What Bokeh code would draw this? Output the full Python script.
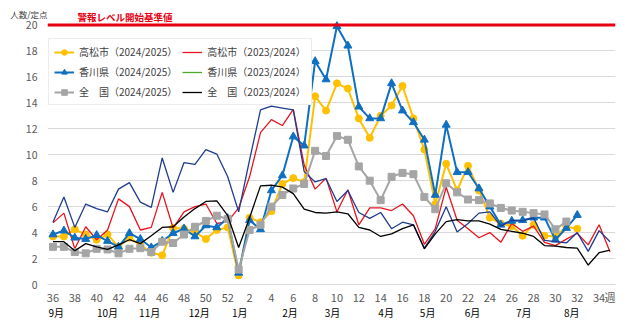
from bokeh.plotting import figure
from bokeh.models import (ColumnDataSource, Range1d, FixedTicker, LinearAxis,
                          Legend, LegendItem, Span, Label)
from bokeh.embed import file_html
from bokeh.resources import INLINE

# ---- data -------------------------------------------------------------
weeks = list(range(36, 53)) + list(range(1, 36))

takamatsu_2425 = [3.7, 3.7, 4.25, 3.85, 3.45, 3.85, 2.9, 3.6, 3.05, 2.45, 2.25, 4.35, 4.3,
                  4.05, 3.5, 4.2, 4.4,
                  0.7, 5.15, 4.8, 5.65, 7.75, 8.2, 7.9, 14.5, 13.4, 15.5, 15.1, 12.8, 11.3,
                  13.0, 13.8, 15.3, 12.8, 10.4, 6.2, 9.3, 7.25, 9.15, 7.25, 5.15, 4.7, 4.5,
                  3.75, 4.6, 3.75, 3.7, 4.45, 4.3]
kagawa_2425 = [3.85, 4.15, 3.6, 3.5, 3.8, 3.35, 2.9, 3.95, 3.5, 2.85, 3.35, 3.95, 4.3,
               3.7, 4.55, 4.4, 5.1,
               0.9, 4.95, 4.25, 7.25, 8.4, 11.4, 10.7, 17.2, 15.8, 19.9, 18.4, 13.7, 12.8,
               12.8, 15.5, 13.4, 12.5, 11.15, 6.9, 12.3, 8.65, 8.65, 7.4, 6.0, 4.6, 4.9,
               4.95, 5.15, 5.15, 3.45, 4.35, 5.35]
national_2425 = [2.9, 2.9, 2.5, 2.4, 2.75, 2.7, 2.4, 2.75, 2.8, 2.5, 3.3, 3.2, 3.85,
                 4.45, 4.9, 5.3, 5.05,
                 1.15, 4.2, 4.6, 6.0, 6.9, 7.4, 7.75, 10.3, 9.9, 11.45, 11.15, 9.1, 8.0,
                 6.5, 8.3, 8.6, 8.5, 6.75, 5.8, 7.8, 7.1, 6.55, 6.5, 6.25, 5.9, 5.7,
                 5.6, 5.5, 5.4, 4.25, 4.85]
takamatsu_2324 = [4.75, 5.5, 2.75, 4.45, 3.45, 4.2, 6.6, 6.0, 4.2, 4.4, 7.1, 4.35, 5.6,
                  6.0, 6.2, 4.7, 4.85,
                  5.9, 8.3, 11.7, 12.7, 12.25, 13.5, 9.2, 7.35, 8.2, 5.6, 7.3, 4.6, 5.9,
                  5.9, 5.7, 6.2, 5.3, 3.1, 4.3, 7.5, 4.95, 4.3, 3.6, 4.0, 3.25, 4.7,
                  4.1, 4.5, 3.25, 3.0, 3.5, 3.95, 3.05, 4.6, 2.5]
kagawa_2324 = [4.8, 6.75, 4.4, 6.2, 5.85, 5.6, 7.35, 7.85, 6.35, 5.95, 9.75, 7.1, 9.4,
               9.25, 10.4, 10.05, 8.3,
               5.6, 9.6, 13.45, 13.75, 13.6, 13.45, 8.7, 7.9, 8.15, 6.4, 7.25, 5.55, 5.1,
               5.55, 4.3, 4.8, 4.6, 2.8, 4.1, 6.0, 4.05, 4.7, 5.5, 5.6, 4.5, 4.95,
               4.9, 5.15, 3.4, 3.3, 3.2, 4.0, 2.55, 4.15, 3.3]
national_2324 = [3.3, 3.3, 2.6, 3.15, 2.9, 2.7, 3.05, 3.45, 3.15, 3.75, 4.4, 4.45, 5.2,
                 5.85, 6.4, 6.45, 5.3,
                 2.85, 5.15, 7.6, 7.65, 7.5, 7.0, 5.8, 5.55, 5.5, 5.6, 5.45, 4.4, 4.2,
                 3.7, 3.9, 4.3, 4.6, 2.75, 3.9, 4.85, 5.0, 4.9, 4.9, 4.65, 4.25, 4.1,
                 3.95, 3.7, 3.0, 2.95, 2.85, 2.8, 1.5, 2.45, 2.65]

alert_level = 20
alert_text = "警報レベル開始基準値"
y_ticks = list(range(0, 21, 2))
y_unit = "人数/定点"
week_tick_labels = [36, 38, 40, 42, 44, 46, 48, 50, 52, 2, 4, 6, 8, 10, 12, 14, 16,
                    18, 20, 22, 24, 26, 28, 30, 32, 34]
week_unit = "週"
months = ["9月", "10月", "11月", "12月", "1月", "2月", "3月", "4月", "5月", "6月", "7月", "8月"]
month_label_pos = [0.3, 5.0, 8.85, 13.4, 17.1, 21.7, 25.6, 30.5, 34.3, 38.4, 43.1, 47.5]

legend_labels = ["高松市（2024/2025）", "香川県（2024/2025）", "全　国（2024/2025）",
                 "高松市（2023/2024）", "香川県（2023/2024）", "全　国（2023/2024）"]

FONT = "Noto Sans CJK JP"

# ---- figure -----------------------------------------------------------
n = len(weeks)
idx = list(range(n))
Y_TOP = 21.5          # room above the alert line for its caption
UNIT_Y = 20.87        # height of the unit caption
ALERT_TEXT_Y = 20.64

p = figure(width=625, height=322, output_backend="svg", toolbar_location=None,
           x_range=Range1d(-0.5, n - 0.5), y_range=Range1d(0, Y_TOP),
           min_border_left=47, min_border_right=10, min_border_top=5,
           min_border_bottom=35)
p.title.visible = False
p.outline_line_color = None
p.background_fill_color = "white"
p.border_fill_color = "white"
p.xgrid.visible = False
p.ygrid.ticker = FixedTicker(ticks=y_ticks)
p.ygrid.grid_line_color = "#D9D9D9"
p.ygrid.grid_line_width = 1

# y axis
yax = p.yaxis[0]
yax.ticker = FixedTicker(ticks=y_ticks)
yax.axis_line_color = None
yax.major_tick_line_color = None
yax.minor_tick_line_color = None
yax.major_tick_out = 0
yax.minor_tick_out = 0
yax.major_tick_in = 0
yax.major_label_text_font = FONT
yax.major_label_text_font_size = "10.5px"
yax.major_label_text_color = "#595959"
yax.major_label_standoff = 10

# unit caption as an outer left axis
unit_axis = LinearAxis(ticker=FixedTicker(ticks=[UNIT_Y]),
                       major_label_overrides={UNIT_Y: y_unit},
                       axis_line_color=None, major_tick_line_color=None,
                       minor_tick_line_color=None, major_tick_out=0, minor_tick_out=0,
                       major_tick_in=0, major_label_standoff=-25,
                       major_label_text_font=FONT, major_label_text_font_size="8.5px",
                       major_label_text_color="#404040")
p.add_layout(unit_axis, "left")

# x axis (weeks)
xax = p.xaxis[0]
tick_pos = [weeks.index(w) for w in week_tick_labels] + [n - 1]
overrides = {weeks.index(w): str(w) for w in week_tick_labels}
overrides[n - 1] = week_unit
xax.ticker = FixedTicker(ticks=tick_pos)
xax.major_label_overrides = overrides
xax.axis_line_color = "#D9D9D9"
xax.major_tick_line_color = None
xax.minor_tick_line_color = None
xax.major_tick_out = 0
xax.minor_tick_out = 0
xax.major_tick_in = 0
xax.major_label_text_font = FONT
xax.major_label_text_font_size = "11px"
xax.major_label_text_color = "#595959"
xax.major_label_standoff = 4

# month axis
month_axis = LinearAxis(ticker=FixedTicker(ticks=month_label_pos),
                        major_label_overrides={pos: m for pos, m in zip(month_label_pos, months)},
                        axis_line_color=None, major_tick_line_color=None,
                        minor_tick_line_color=None, major_tick_out=0, minor_tick_out=0,
                        major_tick_in=0, major_label_standoff=-3,
                        major_label_text_font=FONT, major_label_text_font_size="10px",
                        major_label_text_color="#000000")
p.add_layout(month_axis, "below")

# alert level line and caption
p.add_layout(Span(location=alert_level, dimension="width", line_color="#E60012", line_width=3))
p.add_layout(Label(x=-0.5, y=ALERT_TEXT_Y, x_offset=30, text=alert_text,
                   text_font=FONT, text_font_size="9.5px", text_font_style="bold",
                   text_color="#E60012", text_align="left", text_baseline="middle"))

# ---- series -----------------------------------------------------------
def src(vals):
    return ColumnDataSource(dict(x=idx[:len(vals)], y=vals))

s_tk25 = src(takamatsu_2425)
s_tk24 = src(takamatsu_2324)
s_kg25 = src(kagawa_2425)
s_kg24 = src(kagawa_2324)
s_nt25 = src(national_2425)
s_nt24 = src(national_2324)

YEL, BLU, GRY = "#FFC000", "#0F6FC0", "#A5A5A5"
RED, NAV, BLK = "#E8141E", "#1F3C8F", "#000000"

r_tk25_l = p.line("x", "y", source=s_tk25, color=YEL, line_width=2)
r_tk25_m = p.scatter("x", "y", source=s_tk25, marker="circle", size=7, color=YEL)
r_tk24 = p.line("x", "y", source=s_tk24, color=RED, line_width=1.3)
r_kg25_l = p.line("x", "y", source=s_kg25, color=BLU, line_width=2)
r_kg25_m = p.scatter("x", "y", source=s_kg25, marker="triangle", size=8, color=BLU)
r_kg24 = p.line("x", "y", source=s_kg24, color=NAV, line_width=1.3)
r_nt25_l = p.line("x", "y", source=s_nt25, color=GRY, line_width=2)
r_nt25_m = p.scatter("x", "y", source=s_nt25, marker="square", size=7, color=GRY)
r_nt24 = p.line("x", "y", source=s_nt24, color=BLK, line_width=1.3)

# the reference legend shows a green swatch for 香川県 2023/2024
r_kg24_leg = p.line("x", "y", source=s_kg24, color="#4EA72E", line_width=1.3, visible=False)

items = [
    LegendItem(label=legend_labels[0], renderers=[r_tk25_l, r_tk25_m]),
    LegendItem(label=legend_labels[1], renderers=[r_kg25_l, r_kg25_m]),
    LegendItem(label=legend_labels[2], renderers=[r_nt25_l, r_nt25_m]),
    LegendItem(label=legend_labels[3], renderers=[r_tk24]),
    LegendItem(label=legend_labels[4], renderers=[r_kg24_leg]),
    LegendItem(label=legend_labels[5], renderers=[r_nt24]),
]
legend = Legend(items=items, location=(1, 179), orientation="vertical", nrows=3,
                glyph_width=20, glyph_height=14, label_height=14, label_width=96,
                label_standoff=5, spacing=5, padding=5, margin=0,
                label_text_font=FONT, label_text_font_size="10px",
                label_text_color="#404040",
                background_fill_color="white", background_fill_alpha=1.0,
                border_line_color="#D9D9D9", border_line_width=1)
p.add_layout(legend)

open("out.html", "w").write(file_html(p, INLINE))
